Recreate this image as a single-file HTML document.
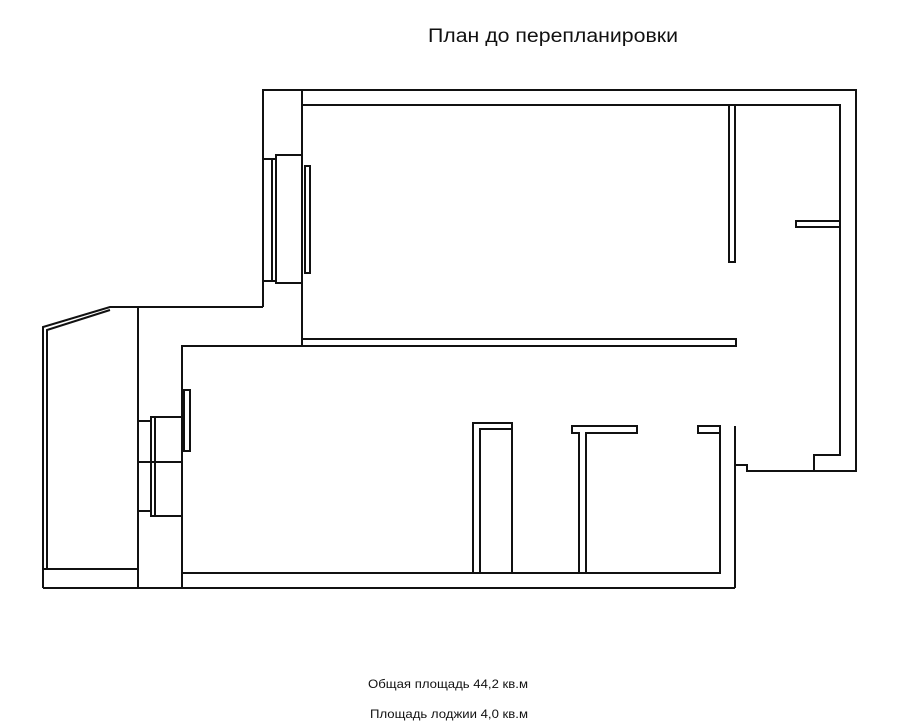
<!DOCTYPE html>
<html><head><meta charset="utf-8"><style>
html,body{margin:0;padding:0;background:#fff;}
svg{display:block;}
</style></head><body>
<svg width="904" height="725" viewBox="0 0 904 725" xmlns="http://www.w3.org/2000/svg">
<text x="428" y="42" font-family="Liberation Sans, sans-serif" font-size="19" textLength="250" lengthAdjust="spacingAndGlyphs" fill="#111">План до перепланировки</text>
<g fill="none" stroke="#111" stroke-width="2">
<polyline points="263,307 263,90 856,90 856,471 747,471 747,465 735,465 735,426"/>
<line x1="735" y1="465" x2="735" y2="588"/>
<line x1="43" y1="588" x2="735" y2="588"/>
<polyline points="302,346 302,90"/>
<polyline points="302,105 840,105 840,455 814,455 814,471"/>
<polyline points="302,339 736,339 736,346 182,346 182,573 720,573 720,426 698,426 698,433 720,433"/>
<rect x="729" y="105" width="6" height="157"/>
<rect x="796" y="221" width="44" height="6"/>
<rect x="263" y="159" width="9" height="122"/>
<rect x="272" y="159" width="4" height="122"/>
<rect x="276" y="155" width="26" height="128"/>
<rect x="305" y="166" width="5" height="107"/>
<polyline points="263,307 110,307 43,327 43,588"/>
<polyline points="110,310 47,330 47,569"/>
<line x1="43" y1="569" x2="138" y2="569"/>
<line x1="138" y1="307" x2="138" y2="588"/>
<line x1="182" y1="573" x2="182" y2="588"/>
<rect x="151" y="417" width="4" height="99"/>
<rect x="155" y="417" width="27" height="99"/>
<line x1="138" y1="421" x2="151" y2="421"/>
<line x1="138" y1="511" x2="151" y2="511"/>
<line x1="138" y1="462" x2="182" y2="462"/>
<rect x="184" y="390" width="6" height="61"/>
<polyline points="473,573 473,423 512,423 512,573"/>
<polyline points="480,573 480,429 512,429"/>
<polyline points="579,573 579,433 572,433 572,426 637,426 637,433 586,433 586,573"/>
</g>
<text x="368" y="688" font-family="Liberation Sans, sans-serif" font-size="12" textLength="160" lengthAdjust="spacingAndGlyphs" fill="#111">Общая площадь 44,2 кв.м</text>
<text x="370" y="718" font-family="Liberation Sans, sans-serif" font-size="12" textLength="158" lengthAdjust="spacingAndGlyphs" fill="#111">Площадь лоджии 4,0 кв.м</text>
</svg>
</body></html>
